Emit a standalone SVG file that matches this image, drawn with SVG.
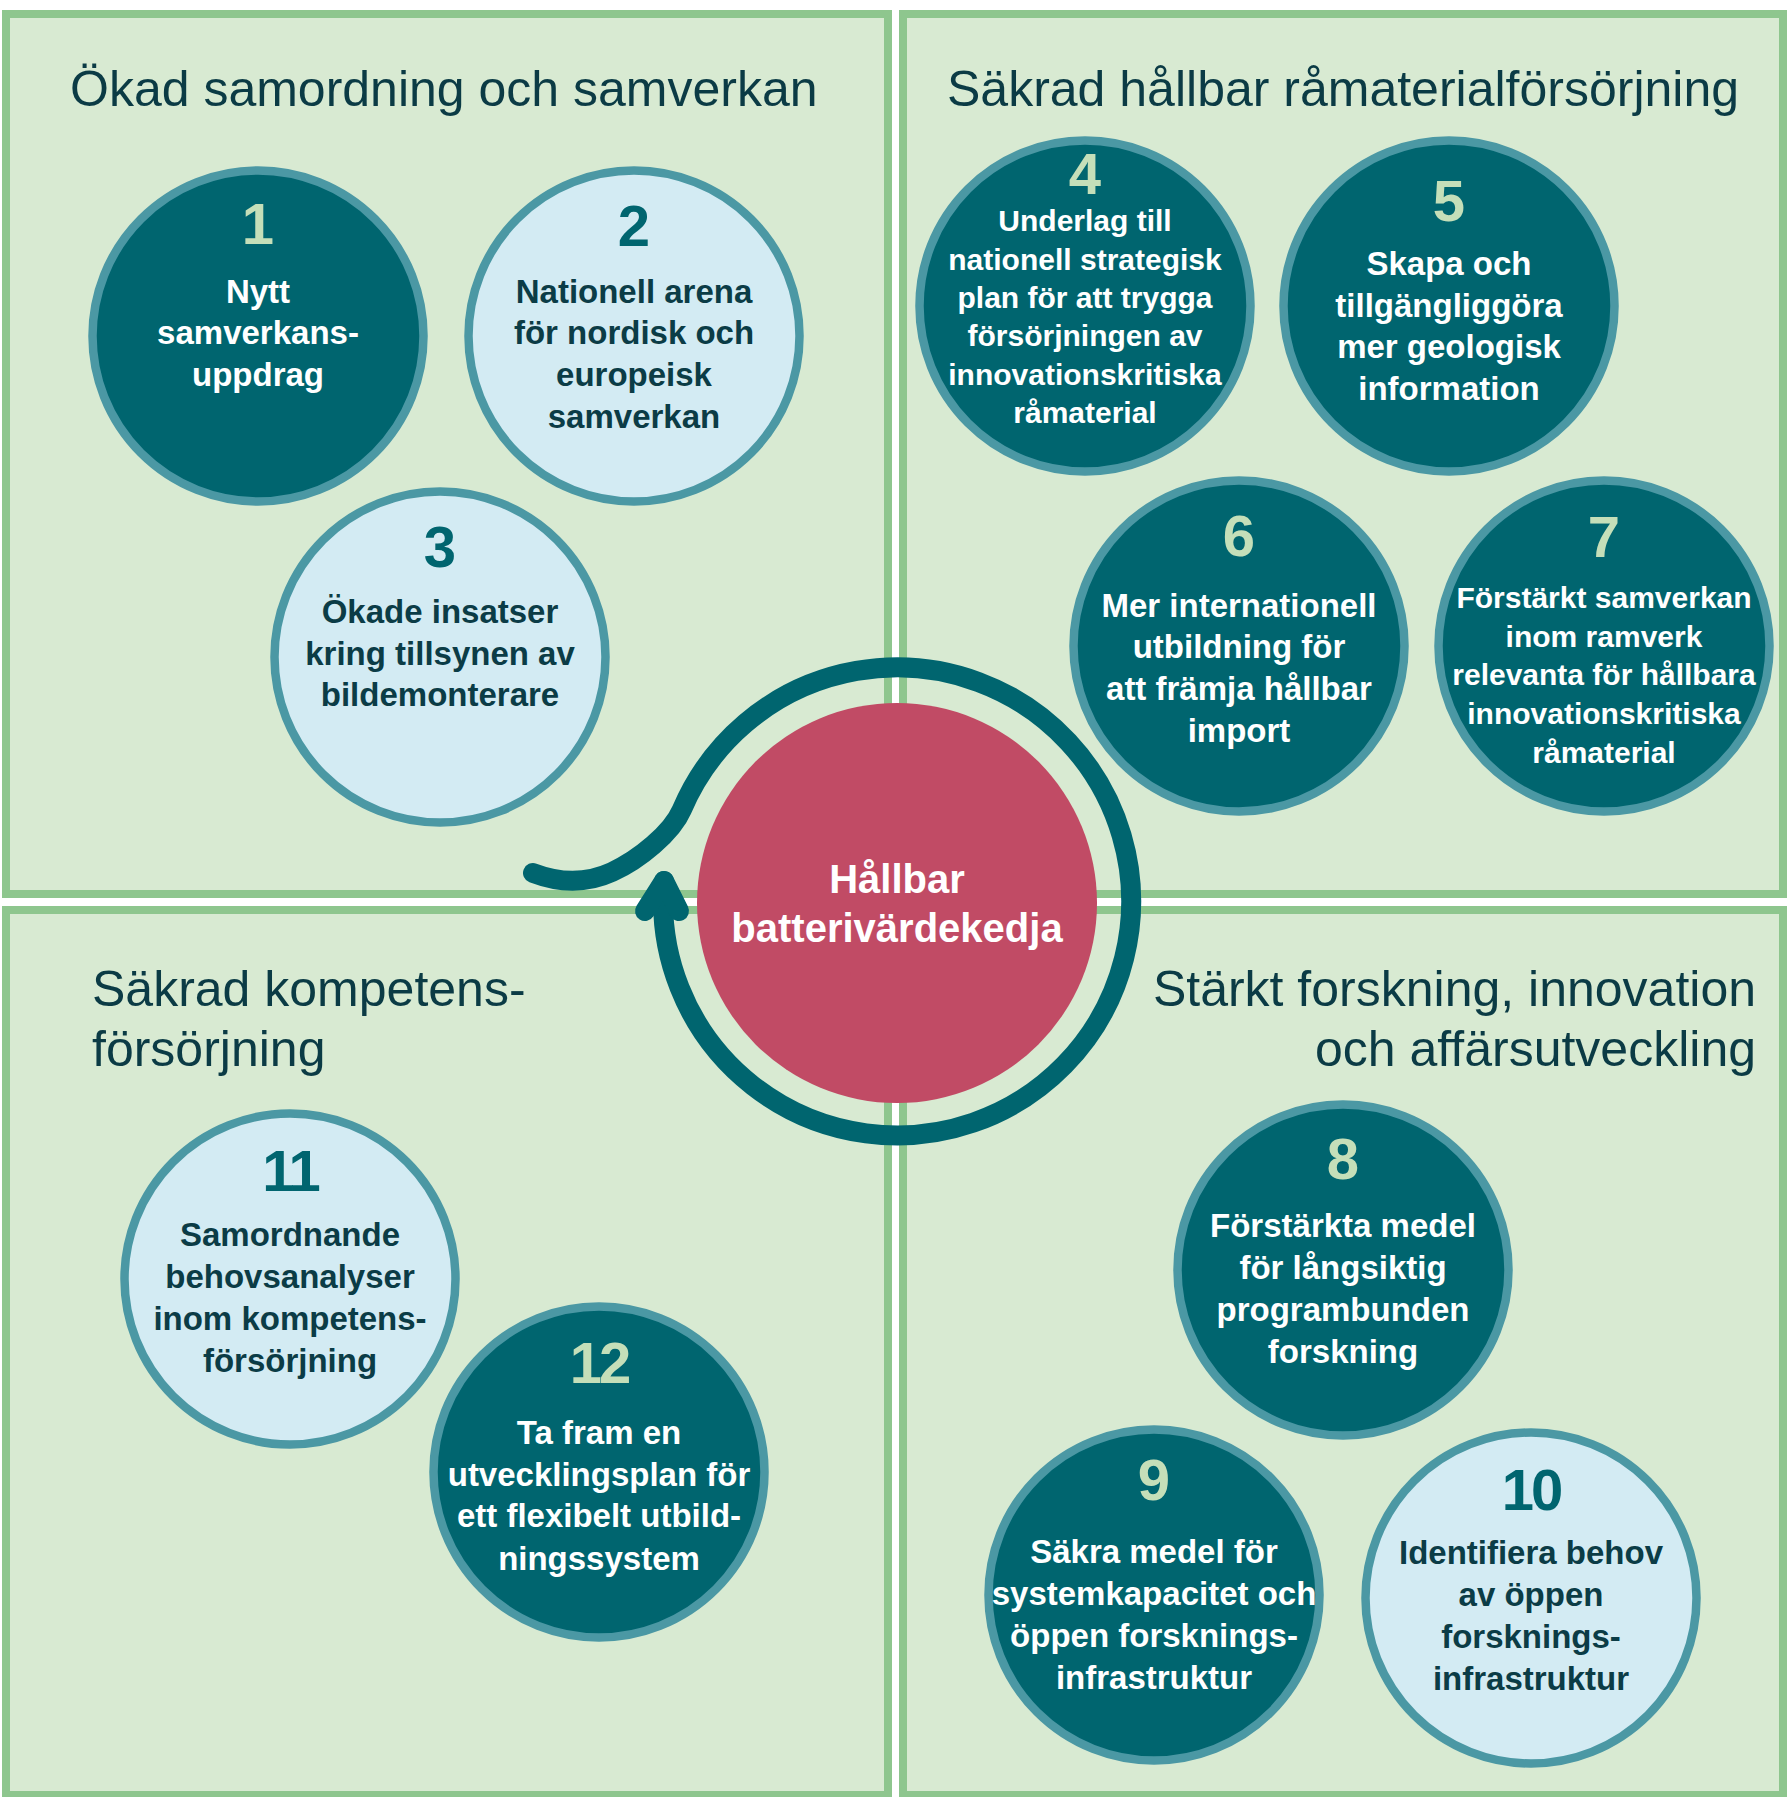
<svg xmlns="http://www.w3.org/2000/svg" width="1789" height="1797" viewBox="0 0 1789 1797">
<style>
.panel{fill:#D8EAD2;stroke:#8EC68E;stroke-width:8}
.title{font-family:'Liberation Sans',Arial,sans-serif;font-size:50px;fill:#0B3B45}
.dk circle{fill:#00656F;stroke:#4B98A4;stroke-width:8.5}
.lt circle{fill:#D3EBF3;stroke:#4B98A4;stroke-width:8.5}
.num{font-family:'Liberation Sans',Arial,sans-serif;font-weight:bold;font-size:58px;text-anchor:middle}
.dk .num{fill:#C5DFB9}
.lt .num{fill:#00656F}
.txt{font-family:'Liberation Sans',Arial,sans-serif;font-weight:bold;font-size:33px;text-anchor:middle}
.sm{font-size:30px}
.dk .txt{fill:#FFFFFF}
.lt .txt{fill:#0B3C46}
.ring{fill:none;stroke:#00656F;stroke-width:20;stroke-linecap:round;stroke-linejoin:round}
.ctr{fill:#C14B65}
.ctrtxt{font-family:'Liberation Sans',Arial,sans-serif;font-weight:bold;font-size:40px;fill:#FFFFFF;text-anchor:middle}
</style>
<rect width="1789" height="1797" fill="#FFFFFF"/>
<g id="panels">
<rect class="panel" x="6" y="14" width="882" height="880"/>
<rect class="panel" x="903" y="14" width="880" height="880"/>
<rect class="panel" x="6" y="910" width="882" height="885"/>
<rect class="panel" x="903" y="910" width="880" height="885"/>
<text class="title" x="70" y="106">Ökad samordning och samverkan</text>
<text class="title" x="947" y="106">Säkrad hållbar råmaterialförsörjning</text>
<text class="title" x="92" y="1006">Säkrad kompetens-</text>
<text class="title" x="92" y="1066">försörjning</text>
<text class="title" x="1756" y="1006" text-anchor="end">Stärkt forskning, innovation</text>
<text class="title" x="1756" y="1066" text-anchor="end">och affärsutveckling</text>
</g>
<g id="connectors">
<path class="ring" d="M 533,873 Q 575,889 612,872 C 639.2,859.5 671.7,832.9 681.7,810 A 234 234 0 1 1 664,881"/>
<path class="ring" stroke-width="19" d="M 645,911 L 664,881 L 679,911"/>
</g>
<g id="center">
<circle class="ctr" cx="897" cy="903" r="200"/>
<text class="ctrtxt" x="897" y="893">Hållbar</text>
<text class="ctrtxt" x="897" y="942">batterivärdekedja</text>
</g>
<g id="n1" class="dk">
<circle cx="258" cy="336" r="165.5"/>
<text class="num" x="258" y="244">1</text>
<text class="txt"><tspan x="258" y="302.5">Nytt</tspan><tspan x="258" y="344.4">samverkans-</tspan><tspan x="258" y="385.8">uppdrag</tspan></text>
</g>
<g id="n2" class="lt">
<circle cx="634" cy="336" r="165.5"/>
<text class="num" x="634" y="246">2</text>
<text class="txt"><tspan x="634" y="302.5">Nationell arena</tspan><tspan x="634" y="344.4">för nordisk och</tspan><tspan x="634" y="386">europeisk</tspan><tspan x="634" y="428">samverkan</tspan></text>
</g>
<g id="n3" class="lt">
<circle cx="440" cy="657" r="165.5"/>
<text class="num" x="440" y="567">3</text>
<text class="txt"><tspan x="440" y="623">Ökade insatser</tspan><tspan x="440" y="665">kring tillsynen av</tspan><tspan x="440" y="706">bildemonterare</tspan></text>
</g>
<g id="n4" class="dk">
<circle cx="1085" cy="306" r="165.5"/>
<text class="num" x="1085" y="194">4</text>
<text class="txt sm"><tspan x="1085" y="230.5">Underlag till</tspan><tspan x="1085" y="269.5">nationell strategisk</tspan><tspan x="1085" y="308">plan för att trygga</tspan><tspan x="1085" y="346">försörjningen av</tspan><tspan x="1085" y="384.5">innovationskritiska</tspan><tspan x="1085" y="423">råmaterial</tspan></text>
</g>
<g id="n5" class="dk">
<circle cx="1449" cy="306" r="165.5"/>
<text class="num" x="1449" y="221">5</text>
<text class="txt"><tspan x="1449" y="275">Skapa och</tspan><tspan x="1449" y="317">tillgängliggöra</tspan><tspan x="1449" y="358">mer geologisk</tspan><tspan x="1449" y="400">information</tspan></text>
</g>
<g id="n6" class="dk">
<circle cx="1239" cy="646" r="165.5"/>
<text class="num" x="1239" y="556">6</text>
<text class="txt"><tspan x="1239" y="616.5">Mer internationell</tspan><tspan x="1239" y="658">utbildning för</tspan><tspan x="1239" y="699.5">att främja hållbar</tspan><tspan x="1239" y="741.5">import</tspan></text>
</g>
<g id="n7" class="dk">
<circle cx="1604" cy="646" r="165.5"/>
<text class="num" x="1604" y="557">7</text>
<text class="txt sm"><tspan x="1604" y="608">Förstärkt samverkan</tspan><tspan x="1604" y="647">inom ramverk</tspan><tspan x="1604" y="685">relevanta för hållbara</tspan><tspan x="1604" y="724">innovationskritiska</tspan><tspan x="1604" y="762.5">råmaterial</tspan></text>
</g>
<g id="n8" class="dk">
<circle cx="1343" cy="1270" r="165.5"/>
<text class="num" x="1343" y="1179">8</text>
<text class="txt"><tspan x="1343" y="1237">Förstärkta medel</tspan><tspan x="1343" y="1279">för långsiktig</tspan><tspan x="1343" y="1321">programbunden</tspan><tspan x="1343" y="1363">forskning</tspan></text>
</g>
<g id="n9" class="dk">
<circle cx="1154" cy="1595" r="165.5"/>
<text class="num" x="1154" y="1500">9</text>
<text class="txt"><tspan x="1154" y="1562.5">Säkra medel för</tspan><tspan x="1154" y="1605">systemkapacitet och</tspan><tspan x="1154" y="1646.5">öppen forsknings-</tspan><tspan x="1154" y="1689">infrastruktur</tspan></text>
</g>
<g id="n10" class="lt">
<circle cx="1531" cy="1598" r="165.5"/>
<text class="num" x="1531" y="1510" letter-spacing="-3">10</text>
<text class="txt"><tspan x="1531" y="1564">Identifiera behov</tspan><tspan x="1531" y="1606">av öppen</tspan><tspan x="1531" y="1647.5">forsknings-</tspan><tspan x="1531" y="1690">infrastruktur</tspan></text>
</g>
<g id="n11" class="lt">
<circle cx="290" cy="1279" r="165.5"/>
<text class="num" x="290" y="1191" letter-spacing="-3">11</text>
<text class="txt"><tspan x="290" y="1245.5">Samordnande</tspan><tspan x="290" y="1288">behovsanalyser</tspan><tspan x="290" y="1329.5">inom kompetens-</tspan><tspan x="290" y="1372">försörjning</tspan></text>
</g>
<g id="n12" class="dk">
<circle cx="599" cy="1472" r="165.5"/>
<text class="num" x="599" y="1383" letter-spacing="-3">12</text>
<text class="txt"><tspan x="599" y="1444">Ta fram en</tspan><tspan x="599" y="1486">utvecklingsplan för</tspan><tspan x="599" y="1527">ett flexibelt utbild-</tspan><tspan x="599" y="1569.5">ningssystem</tspan></text>
</g>
</svg>
